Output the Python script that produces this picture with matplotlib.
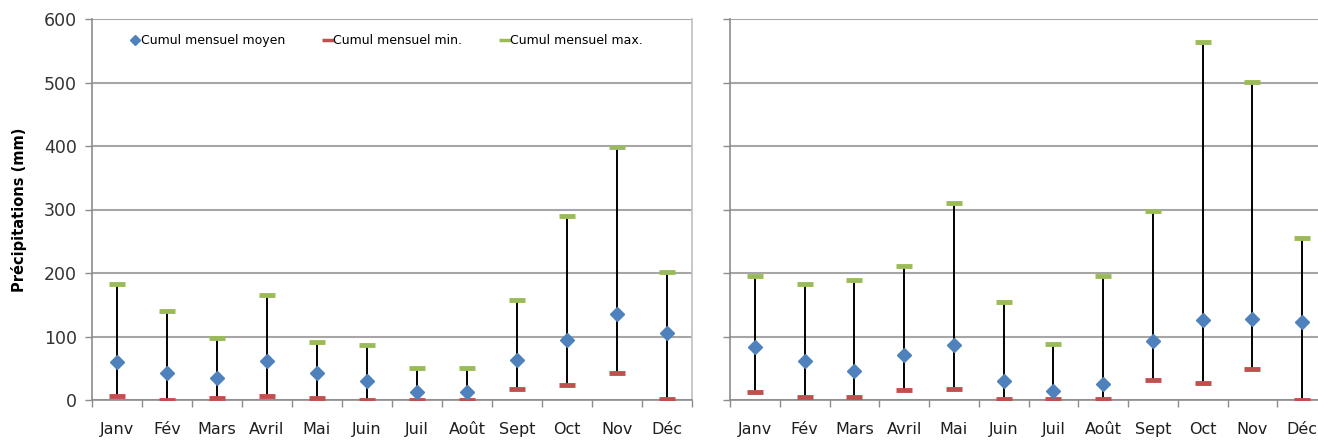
import numpy as np
import matplotlib.pyplot as plt
from matplotlib.lines import Line2D

# Mois et cumuls mensuels (mm) pour les deux stations
mois = ['Janv', 'Fév', 'Mars', 'Avril', 'Mai', 'Juin',
        'Juil', 'Août', 'Sept', 'Oct', 'Nov', 'Déc']

moy_gauche = [60, 42, 35, 61, 43, 30, 13, 13, 63, 94, 136, 105]
min_gauche = [6, 0, 3, 6, 3, 0, 0, 0, 18, 24, 42, 1]
max_gauche = [182, 140, 98, 166, 91, 86, 51, 51, 157, 290, 398, 202]

moy_droite = [83, 62, 46, 71, 86, 30, 14, 25, 93, 126, 127, 123]
min_droite = [13, 5, 5, 15, 18, 2, 2, 2, 32, 26, 49, 0]
max_droite = [195, 183, 189, 211, 311, 155, 88, 195, 298, 564, 501, 255]

BLEU = '#4F81BD'
ROUGE = '#C0504D'
VERT = '#9BBB59'
GRIS = '#8C8C8C'

plt.rcParams['font.family'] = ['Liberation Sans Narrow', 'DejaVu Sans']

fig = plt.figure(figsize=(13.18, 4.43), dpi=100)
ax1 = fig.add_axes([92 / 1318, 43 / 443, 600 / 1318, 381 / 443])
ax2 = fig.add_axes([730 / 1318, 43 / 443, 597 / 1318, 381 / 443])


def tracer(ax, moy, mn, mx, labels_y):
    x = np.arange(len(mois)) + 0.5
    # lignes haut-bas
    ax.vlines(x, mn, mx, color='black', linewidth=1.4, zorder=3)
    ax.plot(x, mn, linestyle='none', marker='_', markersize=11,
            markeredgewidth=3.5, color=ROUGE, zorder=4)
    ax.plot(x, mx, linestyle='none', marker='_', markersize=11,
            markeredgewidth=3.5, color=VERT, zorder=4)
    ax.plot(x, moy, linestyle='none', marker='D', markersize=7,
            color=BLEU, markeredgecolor=BLEU, zorder=5)

    ax.set_xlim(0, 12)
    ax.set_ylim(0, 600)
    ax.set_yticks(np.arange(0, 601, 100))
    ax.grid(axis='y', color='#A6A6A6', linewidth=1.5, zorder=0)
    ax.set_axisbelow(True)

    ax.set_xticks(np.arange(0, 13))
    ax.set_xticklabels([])
    ax.set_xticks(x, minor=True)
    ax.set_xticklabels(mois, minor=True, fontsize=11.5, color='#1F1F1F')
    ax.tick_params(axis='x', which='major', direction='out', length=5,
                   width=1, color=GRIS)
    ax.tick_params(axis='x', which='minor', length=0, pad=16)
    ax.tick_params(axis='y', direction='out', length=5, width=1,
                   color=GRIS, labelsize=12.5, labelcolor='#333333', pad=6)
    if not labels_y:
        ax.set_yticklabels([])

    for s in ['left', 'bottom']:
        ax.spines[s].set_color(GRIS)
        ax.spines[s].set_linewidth(1.2)
    ax.spines['top'].set_visible(False)
    ax.spines['right'].set_color('#BFBFBF')
    ax.spines['right'].set_linewidth(1.2)


tracer(ax1, moy_gauche, min_gauche, max_gauche, True)
tracer(ax2, moy_droite, min_droite, max_droite, False)

ax1.set_ylabel('Précipitations (mm)', fontsize=10.5, fontweight='bold',
               labelpad=12)

poignees = [
    Line2D([], [], linestyle='none', marker='D', markersize=5.5, color=BLEU),
    Line2D([], [], linestyle='none', marker='_', markersize=8,
           markeredgewidth=2.5, color=ROUGE),
    Line2D([], [], linestyle='none', marker='_', markersize=8,
           markeredgewidth=2.5, color=VERT),
]
ax1.legend(poignees, ['Cumul mensuel moyen', 'Cumul mensuel min.',
                      'Cumul mensuel max.'],
           loc='upper left', bbox_to_anchor=(0.045, 0.99), ncol=3,
           frameon=False, fontsize=9, handletextpad=0.05,
           columnspacing=3.0, handlelength=0.8)

fig.savefig('out.png', dpi=100)
